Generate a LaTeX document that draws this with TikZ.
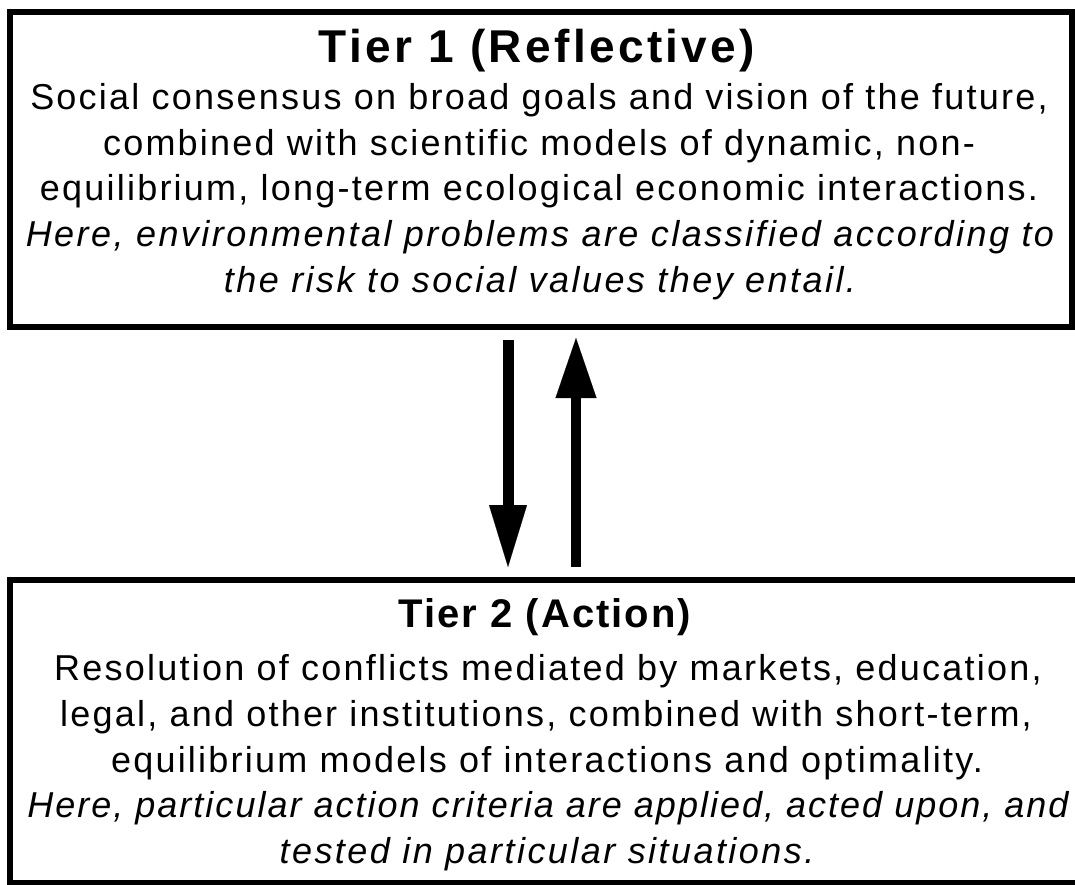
\documentclass[tikz,border=0pt]{standalone}
\usepackage{fontspec}
\setmainfont{Liberation Sans}[LetterSpace=6.2]
\usetikzlibrary{arrows.meta}
\tikzset{
  tierbox/.style={draw, line width=6pt, inner sep=0pt, outer sep=0pt, anchor=north west},
  ttl/.style={anchor=base, inner sep=0pt, font=\fontsize{46}{46}\selectfont\bfseries\addfontfeature{LetterSpace=7.3}},
  ttlb/.style={anchor=base, inner sep=0pt, font=\fontsize{40}{40}\selectfont\bfseries\addfontfeature{LetterSpace=5}},
  ln/.style={anchor=base, inner sep=0pt, font=\fontsize{36}{36}\selectfont},
  itl/.style={anchor=base, inner sep=0pt, font=\fontsize{36}{36}\selectfont\itshape\addfontfeature{LetterSpace=6.8}},
  itlw/.style={anchor=base, inner sep=0pt, font=\fontsize{36}{36}\selectfont\itshape\addfontfeature{LetterSpace=5.6}},
  flow/.style={line width=#1}
}
\begin{document}
\begin{tikzpicture}[x=1pt,y=-1pt]
\useasboundingbox (0,0) rectangle (1075,885);
\clip (0,0) rectangle (1075,885);
\node[tierbox, minimum width=1062pt, minimum height=315pt] (tier1) at (10,12) {};
\node[tierbox, minimum width=1080pt, minimum height=303pt] (tier2) at (10,580) {};

\node[ttl] (t1) at (537,63) {Tier 1 (Reflective)};
\node[ln] (t1a) at (539,110) {Social consensus on broad goals and vision of the future,};
\node[ln] (t1b) at (539,155.5) {combined with scientific models of dynamic, non-};
\node[ln] (t1c) at (539,201) {equilibrium, long-term ecological economic interactions.};
\node[itl] (t1d) at (540,246.5) {Here, environmental problems are classified according to};
\node[itl] (t1e) at (540,292) {the risk to social values they entail.};

\node[ttlb] (t2) at (545,627) {Tier 2 (Action)};
\node[ln] (t2a) at (548,680) {Resolution of conflicts mediated by markets, education,};
\node[ln] (t2b) at (546,726) {legal, and other institutions, combined with short-term,};
\node[ln] (t2c) at (547,772) {equilibrium models of interactions and optimality.};
\node[itlw] (t2d) at (548,817.5) {Here, particular action criteria are applied, acted upon, and};
\node[itl] (t2e) at (547,863) {tested in particular situations.};

\coordinate (dstart) at (508,340);
\coordinate (dend) at (508,567);
\coordinate (ustart) at (576,567);
\coordinate (uend) at (576,338);
\draw[flow=11pt, -{Triangle[width=38pt,length=62pt,line width=0.1pt]}] (dstart) -- (dend);
\draw[flow=10pt, -{Triangle[width=41pt,length=60pt,line width=0.1pt]}] (ustart) -- (uend);
\end{tikzpicture}
\end{document}
